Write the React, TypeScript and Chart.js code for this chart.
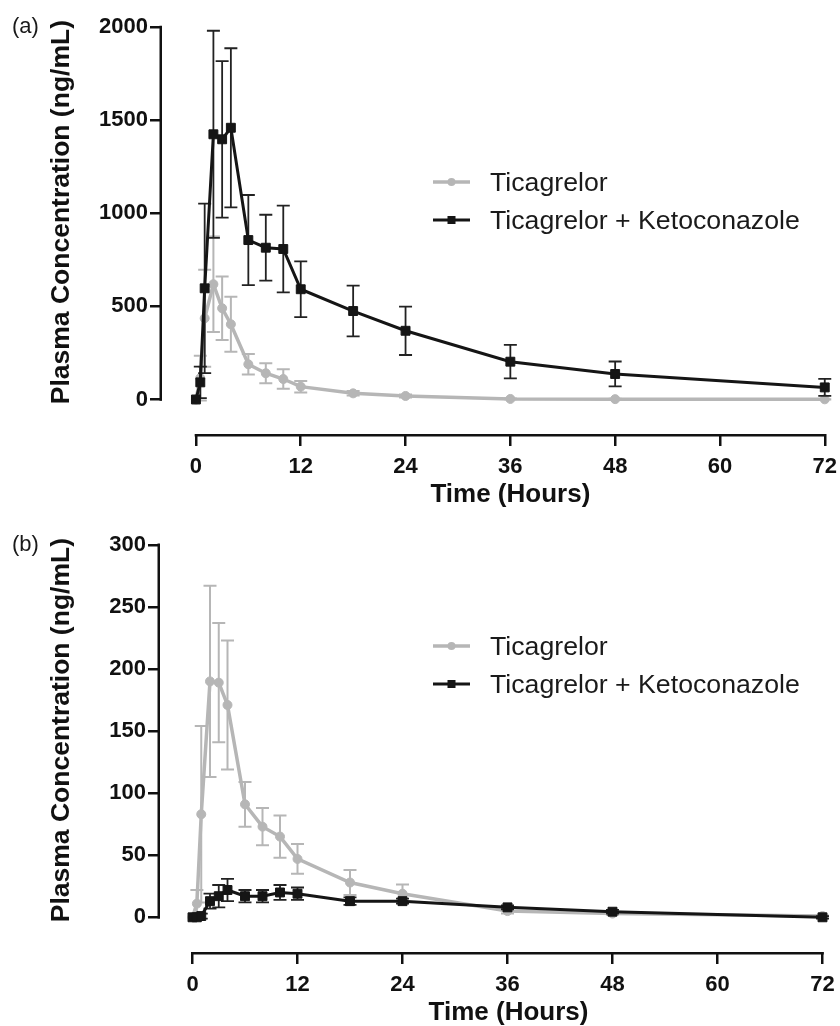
import React, { useEffect, useRef } from 'react';
import { Chart, registerables } from 'chart.js';

Chart.register(...registerables);

// ---------- data ----------
const hours = [0, 0.5, 1, 2, 3, 4, 6, 8, 10, 12, 18, 24, 36, 48, 72];
const xTickValues = [0, 12, 24, 36, 48, 60, 72];
const seriesNames = ['Ticagrelor', 'Ticagrelor + Ketoconazole'];
const xTitle = 'Time (Hours)';
const yTitle = 'Plasma Concentration (ng/mL)';
const panelLabels = ['(a)', '(b)'];

// Panel (a)
const aTicaMean = [0, 115, 436, 619, 490, 404, 189, 141, 110, 69, 33, 19, 3, 2, 1];
const aTicaSD = [0, 120, 260, 256, 170, 148, 55, 54, 52, 31, 12, 8, 2, 2, 1];
const aKetoMean = [0, 92, 597, 1424, 1397, 1459, 856, 815, 808, 592, 475, 369, 203, 137, 65];
const aKetoSD = [0, 85, 455, 556, 420, 427, 242, 177, 233, 150, 136, 130, 90, 67, 46];
const aYTicks = [0, 500, 1000, 1500, 2000];

// Panel (b)
const bTicaMean = [0, 11, 83, 190, 189, 171, 91, 73, 65, 47, 28, 19, 5, 3, 1];
const bTicaSD = [0, 11, 71, 77, 48, 52, 18, 15, 17, 12, 10, 7.5, 2, 1, 0.5];
const bKetoMean = [0, 0, 1, 13, 17, 22, 17, 17, 20, 19, 13, 13, 8, 4.5, 0];
const bKetoSD = [0, 0.5, 2, 6, 9, 9, 5, 5, 6, 5, 3, 2, 1.5, 1.5, 1];
const bYTicks = [0, 50, 100, 150, 200, 250, 300];

// ---------- styles / geometry ----------
const FONT = '"Liberation Sans", Arial, Helvetica, sans-serif';
const GRAY = '#b6b6b6';
const BLACK = '#151515';
const AXIS = '#111111';
const CANVAS_W = 866;
const CANVAS_H = 518;

type Geom = {
  axisX: number;
  x0px: number;
  pxPerHour: number;
  y0px: number;
  yTopPx: number;
  top: number;
  bottom: number;
  right: number;
};

const geomA: Geom = { axisX: 162, x0px: 196, pxPerHour: 8.75, y0px: 399.5, yTopPx: 27, top: 20, bottom: 434, right: 860 };
const geomB: Geom = { axisX: 160, x0px: 192.5, pxPerHour: 8.75, y0px: 399.3, yTopPx: 26.8, top: 20, bottom: 434, right: 857 };

const errorBarPlugin = {
  id: 'errorBars',
  beforeDatasetDraw(chart: any, args: any) {
    const ds = chart.data.datasets[args.index];
    const errs: number[] | undefined = ds.errorValues;
    if (!errs) return;
    const xs = chart.scales.x;
    const ys = chart.scales.y;
    const ctx = chart.ctx;
    ctx.save();
    ctx.strokeStyle = ds.errorColor;
    ctx.lineWidth = ds.errorWidth;
    const cap = 6.5;
    ds.data.forEach((pt: any, i: number) => {
      const e = errs[i];
      if (!e) return;
      const px = xs.getPixelForValue(pt.x);
      const pTop = ys.getPixelForValue(pt.y + e);
      const pBot = ys.getPixelForValue(pt.y - e);
      ctx.beginPath();
      ctx.moveTo(px, pTop);
      ctx.lineTo(px, pBot);
      ctx.moveTo(px - cap, pTop);
      ctx.lineTo(px + cap, pTop);
      ctx.moveTo(px - cap, pBot);
      ctx.lineTo(px + cap, pBot);
      ctx.stroke();
    });
    ctx.restore();
  },
};

const axisLinePlugin = {
  id: 'axisLines',
  beforeDatasetsDraw(chart: any) {
    const { ctx, chartArea } = chart;
    const xs = chart.scales.x;
    const ys = chart.scales.y;
    const yt = ys.ticks;
    const xt = xs.ticks;
    ctx.save();
    ctx.strokeStyle = AXIS;
    ctx.lineWidth = 2.5;
    ctx.lineCap = 'butt';
    ctx.beginPath();
    ctx.moveTo(chartArea.left - 1.25, ys.getPixelForValue(yt[0].value) + 1.25);
    ctx.lineTo(chartArea.left - 1.25, ys.getPixelForValue(yt[yt.length - 1].value) - 1.25);
    ctx.moveTo(xs.getPixelForValue(xt[0].value) - 1.25, chartArea.bottom + 1.25);
    ctx.lineTo(xs.getPixelForValue(xt[xt.length - 1].value) + 1.25, chartArea.bottom + 1.25);
    ctx.stroke();
    ctx.restore();
  },
};

function makeChart(
  canvas: HTMLCanvasElement,
  g: Geom,
  tica: number[],
  ticaSD: number[],
  keto: number[],
  ketoSD: number[],
  yTicks: number[]
) {
  const yTopVal = yTicks[yTicks.length - 1];
  const pxPerUnit = (g.y0px - g.yTopPx) / yTopVal;
  const xMin = (g.axisX - g.x0px) / g.pxPerHour;
  const xMax = (g.right - g.x0px) / g.pxPerHour;
  const yMax = (g.y0px - g.top) / pxPerUnit;
  const yMin = (g.y0px - g.bottom) / pxPerUnit;

  const gridOpts = {
    drawOnChartArea: false,
    drawTicks: true,
    tickLength: 12,
    lineWidth: 2.5,
    color: AXIS,
  };

  return new Chart(canvas, {
    type: 'line',
    data: {
      datasets: [
        {
          label: seriesNames[1],
          data: hours.map((h, i) => ({ x: h, y: keto[i] })),
          borderColor: BLACK,
          backgroundColor: BLACK,
          borderWidth: 3,
          pointStyle: 'rect',
          pointRadius: 6.3,
          pointBorderWidth: 1,
          pointBorderColor: BLACK,
          pointBackgroundColor: BLACK,
          tension: 0,
          order: 0,
          clip: false,
          errorValues: ketoSD,
          errorColor: '#222',
          errorWidth: 1.8,
        } as any,
        {
          label: seriesNames[0],
          data: hours.map((h, i) => ({ x: h, y: tica[i] })),
          borderColor: GRAY,
          backgroundColor: GRAY,
          borderWidth: 3.5,
          pointStyle: 'circle',
          pointRadius: 4.5,
          pointBorderWidth: 1,
          pointBorderColor: GRAY,
          pointBackgroundColor: GRAY,
          tension: 0,
          order: 1,
          clip: false,
          errorValues: ticaSD,
          errorColor: GRAY,
          errorWidth: 2,
        } as any,
      ],
    },
    options: {
      responsive: false,
      animation: false,
      devicePixelRatio: 1,
      layout: { padding: { left: 0, top: g.top, right: CANVAS_W - g.right, bottom: 0 } },
      plugins: { legend: { display: false }, tooltip: { enabled: false }, title: { display: false } },
      scales: {
        x: {
          type: 'linear',
          min: xMin,
          max: xMax,
          afterBuildTicks: (s: any) => {
            s.ticks = xTickValues.map((v) => ({ value: v }));
          },
          afterFit: (s: any) => {
            s.height = CANVAS_H - g.bottom;
          },
          grid: gridOpts,
          border: { display: false },
          ticks: {
            autoSkip: false,
            maxRotation: 0,
            padding: 8,
            color: AXIS,
            font: { family: FONT, size: 22, weight: 'bold' },
            callback: (v: any) => String(v),
          },
          title: {
            display: true,
            text: xTitle,
            color: AXIS,
            font: { family: FONT, size: 26, weight: 'bold' },
            padding: { top: 0, bottom: 8 },
          },
        },
        y: {
          type: 'linear',
          min: yMin,
          max: yMax,
          afterBuildTicks: (s: any) => {
            s.ticks = yTicks.map((v) => ({ value: v }));
          },
          afterFit: (s: any) => {
            s.width = g.axisX;
          },
          grid: gridOpts,
          border: { display: false },
          ticks: {
            autoSkip: false,
            padding: 2,
            color: AXIS,
            font: { family: FONT, size: 22, weight: 'bold' },
            callback: (v: any) => String(v),
          },
          title: {
            display: true,
            text: yTitle,
            align: 'end',
            color: AXIS,
            font: { family: FONT, size: 26.5, weight: 'bold' },
            padding: { top: 46, bottom: 0 },
          },
        },
      },
    } as any,
    plugins: [errorBarPlugin, axisLinePlugin],
  });
}

function LegendRow({ kind, text, top }: { kind: 'circle' | 'rect'; text: string; top: number }) {
  const color = kind === 'circle' ? GRAY : BLACK;
  return (
    <div
      style={{
        position: 'absolute',
        left: 433,
        top: top - 16,
        height: 32,
        display: 'flex',
        alignItems: 'center',
        whiteSpace: 'nowrap',
      }}
    >
      <svg width={37} height={14} style={{ display: 'block' }}>
        <line x1={0} y1={7} x2={37} y2={7} stroke={color} strokeWidth={kind === 'circle' ? 3.5 : 3} />
        {kind === 'circle' ? (
          <circle cx={18.5} cy={7} r={4} fill={color} />
        ) : (
          <rect x={14.5} y={3} width={8} height={8} fill={color} />
        )}
      </svg>
      <span style={{ marginLeft: 20, fontSize: 26.7, lineHeight: '32px', color: '#1a1a1a', fontFamily: FONT }}>{text}</span>
    </div>
  );
}

export default function App() {
  const refA = useRef<HTMLCanvasElement | null>(null);
  const refB = useRef<HTMLCanvasElement | null>(null);

  useEffect(() => {
    const cA = makeChart(refA.current!, geomA, aTicaMean, aTicaSD, aKetoMean, aKetoSD, aYTicks);
    const cB = makeChart(refB.current!, geomB, bTicaMean, bTicaSD, bKetoMean, bKetoSD, bYTicks);
    return () => {
      cA.destroy();
      cB.destroy();
    };
  }, []);

  const labelStyle: React.CSSProperties = {
    position: 'absolute',
    left: 12,
    fontSize: 22,
    lineHeight: '26px',
    color: '#1a1a1a',
    fontFamily: FONT,
  };

  return (
    <div
      style={{
        position: 'absolute',
        left: 0,
        top: 0,
        width: 840,
        height: 1026,
        overflow: 'hidden',
        background: '#ffffff',
      }}
    >
      <canvas ref={refA} width={CANVAS_W} height={CANVAS_H} style={{ position: 'absolute', left: 0, top: 0 }} />
      <canvas ref={refB} width={CANVAS_W} height={CANVAS_H} style={{ position: 'absolute', left: 0, top: 518 }} />
      <div style={{ ...labelStyle, top: 13 }}>{panelLabels[0]}</div>
      <div style={{ ...labelStyle, top: 531 }}>{panelLabels[1]}</div>
      <LegendRow kind="circle" text={seriesNames[0]} top={182} />
      <LegendRow kind="rect" text={seriesNames[1]} top={220} />
      <LegendRow kind="circle" text={seriesNames[0]} top={646} />
      <LegendRow kind="rect" text={seriesNames[1]} top={684} />
    </div>
  );
}
